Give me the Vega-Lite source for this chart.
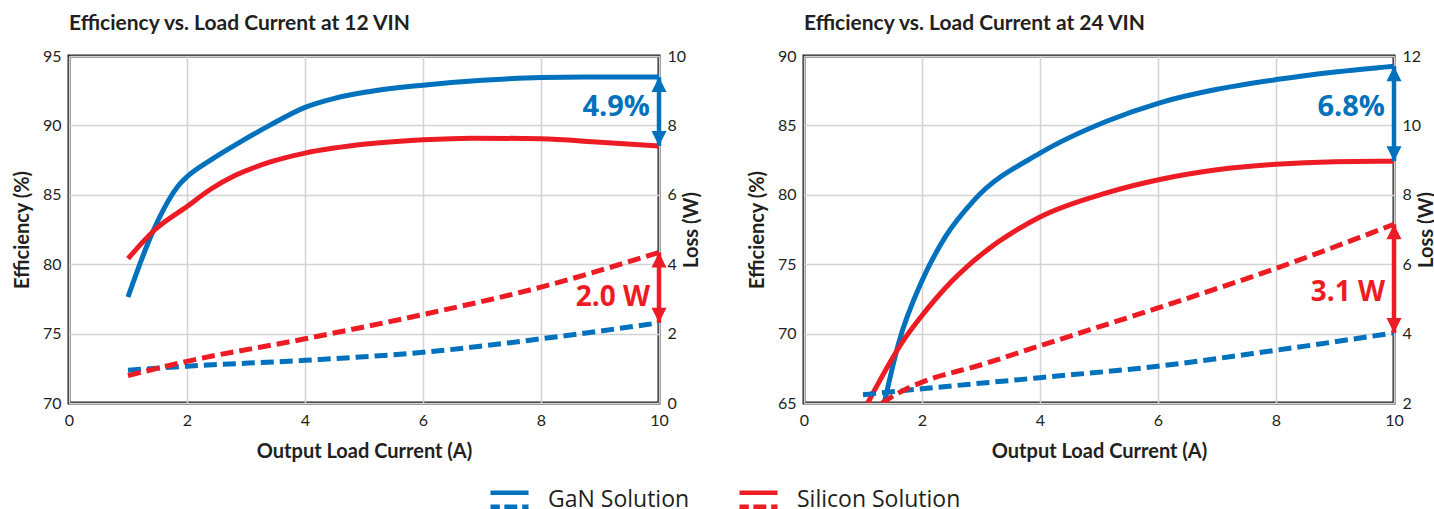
{
  "$schema": "https://vega.github.io/schema/vega-lite/v6.json",
  "background": "white",
  "padding": {"left": 10, "top": 11, "right": 0, "bottom": 0},
  "spacing": 41,
  "datasets": {
    "p12": [
      {"x": 1, "v": 77.64, "s": "GaN Solution", "m": "eff"},
      {"x": 1.41, "v": 82.24, "s": "GaN Solution", "m": "eff"},
      {"x": 1.89, "v": 85.84, "s": "GaN Solution", "m": "eff"},
      {"x": 2.0, "v": 86.3, "s": "GaN Solution", "m": "eff"},
      {"x": 2.4, "v": 87.5, "s": "GaN Solution", "m": "eff"},
      {"x": 2.82, "v": 88.6, "s": "GaN Solution", "m": "eff"},
      {"x": 3.4, "v": 90.0, "s": "GaN Solution", "m": "eff"},
      {"x": 4, "v": 91.3, "s": "GaN Solution", "m": "eff"},
      {"x": 4.5, "v": 91.95, "s": "GaN Solution", "m": "eff"},
      {"x": 5.08, "v": 92.43, "s": "GaN Solution", "m": "eff"},
      {"x": 6, "v": 92.9, "s": "GaN Solution", "m": "eff"},
      {"x": 7, "v": 93.25, "s": "GaN Solution", "m": "eff"},
      {"x": 8, "v": 93.45, "s": "GaN Solution", "m": "eff"},
      {"x": 9, "v": 93.48, "s": "GaN Solution", "m": "eff"},
      {"x": 10, "v": 93.48, "s": "GaN Solution", "m": "eff"},
      {"x": 1, "v": 80.4, "s": "Silicon Solution", "m": "eff"},
      {"x": 1.46, "v": 82.5, "s": "Silicon Solution", "m": "eff"},
      {"x": 2, "v": 84.16, "s": "Silicon Solution", "m": "eff"},
      {"x": 2.4, "v": 85.4, "s": "Silicon Solution", "m": "eff"},
      {"x": 2.82, "v": 86.4, "s": "Silicon Solution", "m": "eff"},
      {"x": 3.4, "v": 87.35, "s": "Silicon Solution", "m": "eff"},
      {"x": 4, "v": 88.0, "s": "Silicon Solution", "m": "eff"},
      {"x": 5.08, "v": 88.67, "s": "Silicon Solution", "m": "eff"},
      {"x": 6, "v": 88.96, "s": "Silicon Solution", "m": "eff"},
      {"x": 6.83, "v": 89.08, "s": "Silicon Solution", "m": "eff"},
      {"x": 8, "v": 89.03, "s": "Silicon Solution", "m": "eff"},
      {"x": 9, "v": 88.78, "s": "Silicon Solution", "m": "eff"},
      {"x": 10, "v": 88.52, "s": "Silicon Solution", "m": "eff"},
      {"x": 1, "v": 0.945, "s": "GaN Solution", "m": "loss"},
      {"x": 2, "v": 1.06, "s": "GaN Solution", "m": "loss"},
      {"x": 4, "v": 1.23, "s": "GaN Solution", "m": "loss"},
      {"x": 6, "v": 1.46, "s": "GaN Solution", "m": "loss"},
      {"x": 8, "v": 1.85, "s": "GaN Solution", "m": "loss"},
      {"x": 10, "v": 2.31, "s": "GaN Solution", "m": "loss"},
      {"x": 1, "v": 0.79, "s": "Silicon Solution", "m": "loss"},
      {"x": 2, "v": 1.2, "s": "Silicon Solution", "m": "loss"},
      {"x": 4, "v": 1.85, "s": "Silicon Solution", "m": "loss"},
      {"x": 6, "v": 2.55, "s": "Silicon Solution", "m": "loss"},
      {"x": 8, "v": 3.34, "s": "Silicon Solution", "m": "loss"},
      {"x": 10, "v": 4.34, "s": "Silicon Solution", "m": "loss"}
    ],
    "a12": [
      {"m": "eff", "x": 10, "top": 93.48, "bot": 88.52, "label": "4.9%"},
      {"m": "loss", "x": 10, "top": 4.34, "bot": 2.31, "label": "2.0 W"}
    ],
    "p24": [
      {"x": 1.36, "v": 65.0, "s": "GaN Solution", "m": "eff"},
      {"x": 1.61, "v": 69.4, "s": "GaN Solution", "m": "eff"},
      {"x": 2, "v": 73.8, "s": "GaN Solution", "m": "eff"},
      {"x": 2.4, "v": 77.0, "s": "GaN Solution", "m": "eff"},
      {"x": 2.88, "v": 79.6, "s": "GaN Solution", "m": "eff"},
      {"x": 4, "v": 83.0, "s": "GaN Solution", "m": "eff"},
      {"x": 5.13, "v": 85.3, "s": "GaN Solution", "m": "eff"},
      {"x": 6.03, "v": 86.63, "s": "GaN Solution", "m": "eff"},
      {"x": 7, "v": 87.6, "s": "GaN Solution", "m": "eff"},
      {"x": 8, "v": 88.3, "s": "GaN Solution", "m": "eff"},
      {"x": 9, "v": 88.85, "s": "GaN Solution", "m": "eff"},
      {"x": 10, "v": 89.27, "s": "GaN Solution", "m": "eff"},
      {"x": 1.08, "v": 65.0, "s": "Silicon Solution", "m": "eff"},
      {"x": 1.7, "v": 69.6, "s": "Silicon Solution", "m": "eff"},
      {"x": 2, "v": 71.3, "s": "Silicon Solution", "m": "eff"},
      {"x": 2.4, "v": 73.3, "s": "Silicon Solution", "m": "eff"},
      {"x": 2.88, "v": 75.25, "s": "Silicon Solution", "m": "eff"},
      {"x": 4, "v": 78.4, "s": "Silicon Solution", "m": "eff"},
      {"x": 5.13, "v": 80.14, "s": "Silicon Solution", "m": "eff"},
      {"x": 6.03, "v": 81.1, "s": "Silicon Solution", "m": "eff"},
      {"x": 7, "v": 81.8, "s": "Silicon Solution", "m": "eff"},
      {"x": 8, "v": 82.2, "s": "Silicon Solution", "m": "eff"},
      {"x": 9, "v": 82.38, "s": "Silicon Solution", "m": "eff"},
      {"x": 10, "v": 82.42, "s": "Silicon Solution", "m": "eff"},
      {"x": 1, "v": 2.24, "s": "GaN Solution", "m": "loss"},
      {"x": 2, "v": 2.41, "s": "GaN Solution", "m": "loss"},
      {"x": 4, "v": 2.73, "s": "GaN Solution", "m": "loss"},
      {"x": 6, "v": 3.06, "s": "GaN Solution", "m": "loss"},
      {"x": 8, "v": 3.52, "s": "GaN Solution", "m": "loss"},
      {"x": 10, "v": 4.02, "s": "GaN Solution", "m": "loss"},
      {"x": 1.32, "v": 2.0, "s": "Silicon Solution", "m": "loss"},
      {"x": 1.75, "v": 2.42, "s": "Silicon Solution", "m": "loss"},
      {"x": 2, "v": 2.6, "s": "Silicon Solution", "m": "loss"},
      {"x": 3.04, "v": 3.12, "s": "Silicon Solution", "m": "loss"},
      {"x": 4, "v": 3.65, "s": "Silicon Solution", "m": "loss"},
      {"x": 6, "v": 4.74, "s": "Silicon Solution", "m": "loss"},
      {"x": 8, "v": 5.88, "s": "Silicon Solution", "m": "loss"},
      {"x": 10, "v": 7.15, "s": "Silicon Solution", "m": "loss"}
    ],
    "a24": [
      {"m": "eff", "x": 10, "top": 89.27, "bot": 82.42, "label": "6.8%"},
      {"m": "loss", "x": 10, "top": 7.15, "bot": 4.02, "label": "3.1 W"}
    ]
  },
  "hconcat": [
    {
      "width": 590,
      "height": 347,
      "title": {"text": "Efficiency vs. Load Current at 12 VIN", "anchor": "start", "frame": "group", "offset": 14},
      "resolve": {"scale": {"y": "independent"}},
      "layer": [
        {
          "layer": [
            {
              "data": {"name": "p12"},
              "transform": [{"filter": "datum.m == 'eff'"}],
              "mark": {"type": "line", "strokeWidth": 5, "interpolate": "monotone", "clip": true},
              "encoding": {
                "x": {"field": "x", "type": "quantitative", "title": "Output Load Current (A)", "scale": {"domain": [0, 10], "nice": false}, "axis": {"values": [0, 2, 4, 6, 8, 10], "grid": true, "format": "d", "labelFlush": false}},
                "y": {"field": "v", "type": "quantitative", "title": "Efficiency (%)", "scale": {"domain": [70, 95], "zero": false, "nice": false}, "axis": {"orient": "left", "values": [70, 75, 80, 85, 90, 95], "grid": true}},
                "color": {"field": "s", "type": "nominal", "title": null, "scale": {"domain": ["GaN Solution", "Silicon Solution"], "range": ["#0071bc", "#ed1c24"]}}
              }
            },
            {
              "data": {"name": "a12"},
              "transform": [{"filter": "datum.m == 'eff'"}],
              "layer": [
                {"mark": {"type": "rule", "color": "#0071bc", "strokeWidth": 4.5},
                 "encoding": {"x": {"field": "x", "type": "quantitative", "title": "Output Load Current (A)"}, "y": {"field": "top", "type": "quantitative", "title": "Efficiency (%)"}, "y2": {"field": "bot"}}},
                {"mark": {"type": "point", "shape": "M0,-1L1,1L-1,1Z", "filled": true, "opacity": 1, "color": "#0071bc", "size": 225, "yOffset": 7.5},
                 "encoding": {"x": {"field": "x", "type": "quantitative", "title": "Output Load Current (A)"}, "y": {"field": "top", "type": "quantitative", "title": "Efficiency (%)"}}},
                {"mark": {"type": "point", "shape": "M0,1L1,-1L-1,-1Z", "filled": true, "opacity": 1, "color": "#0071bc", "size": 225, "yOffset": -7.5},
                 "encoding": {"x": {"field": "x", "type": "quantitative", "title": "Output Load Current (A)"}, "y": {"field": "bot", "type": "quantitative", "title": "Efficiency (%)"}}},
                {"mark": {"type": "text", "align": "right", "baseline": "middle", "dx": -9, "font": "Open Sans", "fontSize": 29, "fontWeight": "bold", "color": "#0071bc"},
                 "encoding": {"x": {"field": "x", "type": "quantitative", "title": "Output Load Current (A)"}, "y": {"datum": 91.3, "type": "quantitative", "title": "Efficiency (%)"}, "text": {"field": "label"}}}
              ]
            }
          ]
        },
        {
          "layer": [
            {
              "data": {"name": "p12"},
              "transform": [{"filter": "datum.m == 'loss'"}],
              "mark": {"type": "line", "strokeWidth": 5, "strokeDash": [13, 6], "interpolate": "monotone", "clip": true},
              "encoding": {
                "x": {"field": "x", "type": "quantitative", "title": "Output Load Current (A)"},
                "y": {"field": "v", "type": "quantitative", "title": "Loss (W)", "scale": {"domain": [0, 10], "nice": false}, "axis": {"orient": "right", "values": [0, 2, 4, 6, 8, 10], "grid": false, "titleAngle": 270, "titlePadding": 16}},
                "color": {"field": "s", "type": "nominal", "title": null}
              }
            },
            {
              "data": {"name": "a12"},
              "transform": [{"filter": "datum.m == 'loss'"}],
              "layer": [
                {"mark": {"type": "rule", "color": "#ed1c24", "strokeWidth": 4.5},
                 "encoding": {"x": {"field": "x", "type": "quantitative", "title": "Output Load Current (A)"}, "y": {"field": "top", "type": "quantitative", "title": "Loss (W)"}, "y2": {"field": "bot"}}},
                {"mark": {"type": "point", "shape": "M0,-1L1,1L-1,1Z", "filled": true, "opacity": 1, "color": "#ed1c24", "size": 225, "yOffset": 7.5},
                 "encoding": {"x": {"field": "x", "type": "quantitative", "title": "Output Load Current (A)"}, "y": {"field": "top", "type": "quantitative", "title": "Loss (W)"}}},
                {"mark": {"type": "point", "shape": "M0,1L1,-1L-1,-1Z", "filled": true, "opacity": 1, "color": "#ed1c24", "size": 225, "yOffset": -7.5},
                 "encoding": {"x": {"field": "x", "type": "quantitative", "title": "Output Load Current (A)"}, "y": {"field": "bot", "type": "quantitative", "title": "Loss (W)"}}},
                {"mark": {"type": "text", "align": "right", "baseline": "middle", "dx": -9, "font": "Open Sans", "fontSize": 28, "fontWeight": "bold", "color": "#ed1c24"},
                 "encoding": {"x": {"field": "x", "type": "quantitative", "title": "Output Load Current (A)"}, "y": {"datum": 3.04, "type": "quantitative", "title": "Loss (W)"}, "text": {"field": "label"}}}
              ]
            }
          ]
        }
      ]
    },
    {
      "width": 590,
      "height": 347,
      "title": {"text": "Efficiency vs. Load Current at 24 VIN", "anchor": "start", "frame": "group", "offset": 14},
      "resolve": {"scale": {"y": "independent"}},
      "layer": [
        {
          "layer": [
            {
              "data": {"name": "p24"},
              "transform": [{"filter": "datum.m == 'eff'"}],
              "mark": {"type": "line", "strokeWidth": 5, "interpolate": "monotone", "clip": true},
              "encoding": {
                "x": {"field": "x", "type": "quantitative", "title": "Output Load Current (A)", "scale": {"domain": [0, 10], "nice": false}, "axis": {"values": [0, 2, 4, 6, 8, 10], "grid": true, "format": "d", "labelFlush": false}},
                "y": {"field": "v", "type": "quantitative", "title": "Efficiency (%)", "scale": {"domain": [65, 90], "zero": false, "nice": false}, "axis": {"orient": "left", "values": [65, 70, 75, 80, 85, 90], "grid": true}},
                "color": {"field": "s", "type": "nominal", "title": null}
              }
            },
            {
              "data": {"name": "a24"},
              "transform": [{"filter": "datum.m == 'eff'"}],
              "layer": [
                {"mark": {"type": "rule", "color": "#0071bc", "strokeWidth": 4.5},
                 "encoding": {"x": {"field": "x", "type": "quantitative", "title": "Output Load Current (A)"}, "y": {"field": "top", "type": "quantitative", "title": "Efficiency (%)"}, "y2": {"field": "bot"}}},
                {"mark": {"type": "point", "shape": "M0,-1L1,1L-1,1Z", "filled": true, "opacity": 1, "color": "#0071bc", "size": 225, "yOffset": 7.5},
                 "encoding": {"x": {"field": "x", "type": "quantitative", "title": "Output Load Current (A)"}, "y": {"field": "top", "type": "quantitative", "title": "Efficiency (%)"}}},
                {"mark": {"type": "point", "shape": "M0,1L1,-1L-1,-1Z", "filled": true, "opacity": 1, "color": "#0071bc", "size": 225, "yOffset": -7.5},
                 "encoding": {"x": {"field": "x", "type": "quantitative", "title": "Output Load Current (A)"}, "y": {"field": "bot", "type": "quantitative", "title": "Efficiency (%)"}}},
                {"mark": {"type": "text", "align": "right", "baseline": "middle", "dx": -9, "font": "Open Sans", "fontSize": 29, "fontWeight": "bold", "color": "#0071bc"},
                 "encoding": {"x": {"field": "x", "type": "quantitative", "title": "Output Load Current (A)"}, "y": {"datum": 86.29, "type": "quantitative", "title": "Efficiency (%)"}, "text": {"field": "label"}}}
              ]
            }
          ]
        },
        {
          "layer": [
            {
              "data": {"name": "p24"},
              "transform": [{"filter": "datum.m == 'loss'"}],
              "mark": {"type": "line", "strokeWidth": 5, "strokeDash": [13, 6], "interpolate": "monotone", "clip": true},
              "encoding": {
                "x": {"field": "x", "type": "quantitative", "title": "Output Load Current (A)"},
                "y": {"field": "v", "type": "quantitative", "title": "Loss (W)", "scale": {"domain": [2, 12], "zero": false, "nice": false}, "axis": {"orient": "right", "values": [2, 4, 6, 8, 10, 12], "grid": false, "titleAngle": 270, "titlePadding": 16}},
                "color": {"field": "s", "type": "nominal", "title": null}
              }
            },
            {
              "data": {"name": "a24"},
              "transform": [{"filter": "datum.m == 'loss'"}],
              "layer": [
                {"mark": {"type": "rule", "color": "#ed1c24", "strokeWidth": 4.5},
                 "encoding": {"x": {"field": "x", "type": "quantitative", "title": "Output Load Current (A)"}, "y": {"field": "top", "type": "quantitative", "title": "Loss (W)"}, "y2": {"field": "bot"}}},
                {"mark": {"type": "point", "shape": "M0,-1L1,1L-1,1Z", "filled": true, "opacity": 1, "color": "#ed1c24", "size": 225, "yOffset": 7.5},
                 "encoding": {"x": {"field": "x", "type": "quantitative", "title": "Output Load Current (A)"}, "y": {"field": "top", "type": "quantitative", "title": "Loss (W)"}}},
                {"mark": {"type": "point", "shape": "M0,1L1,-1L-1,-1Z", "filled": true, "opacity": 1, "color": "#ed1c24", "size": 225, "yOffset": -7.5},
                 "encoding": {"x": {"field": "x", "type": "quantitative", "title": "Output Load Current (A)"}, "y": {"field": "bot", "type": "quantitative", "title": "Loss (W)"}}},
                {"mark": {"type": "text", "align": "right", "baseline": "middle", "dx": -9, "font": "Open Sans", "fontSize": 28, "fontWeight": "bold", "color": "#ed1c24"},
                 "encoding": {"x": {"field": "x", "type": "quantitative", "title": "Output Load Current (A)"}, "y": {"datum": 5.18, "type": "quantitative", "title": "Loss (W)"}, "text": {"field": "label"}}}
              ]
            }
          ]
        }
      ]
    }
  ],
  "config": {
    "font": "Lato",
    "view": {"stroke": "#231f20", "strokeWidth": 3},
    "title": {"font": "Lato", "fontSize": 21, "fontWeight": "bold", "color": "#231f20"},
    "axis": {
      "domain": false,
      "ticks": false,
      "gridColor": "#d3d3d3",
      "gridWidth": 1.5,
      "labelFont": "Lato",
      "labelFontSize": 16,
      "labelColor": "#231f20",
      "labelPadding": 8,
      "titleFont": "Lato",
      "titleFontSize": 20,
      "titleFontWeight": "bold",
      "titleColor": "#231f20"
    },
    "axisX": {"labelPadding": 9, "titlePadding": 13},
    "axisY": {"titlePadding": 10},
    "legend": {
      "orient": "none",
      "direction": "horizontal",
      "legendX": 419,
      "legendY": 422,
      "symbolType": "M-1,-0.37H1M-1,0.37H-0.51M-0.27,0.37H0.41M0.67,0.37H1",
      "symbolSize": 1444,
      "symbolStrokeWidth": 4.5,
      "symbolFillColor": "transparent",
      "labelFont": "Open Sans",
      "labelFontSize": 23,
      "labelLimit": 400,
      "labelColor": "#231f20",
      "labelOffset": 17,
      "columnPadding": 40
    }
  }
}
